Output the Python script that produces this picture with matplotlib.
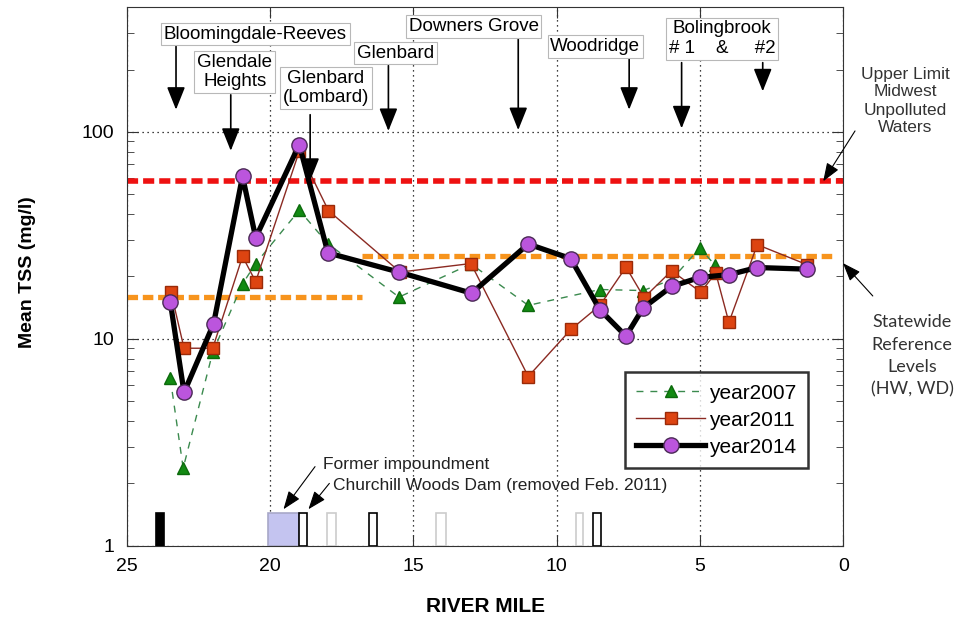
import matplotlib
matplotlib.use("Agg")
import matplotlib.pyplot as plt
from matplotlib.ticker import LogLocator, NullFormatter

plt.rcParams['font.family'] = ['Liberation Sans', 'DejaVu Sans']

# Mean TSS (mg/l) by river mile for each survey year
mile_2007 = [23.48, 23.03, 22.0, 20.96, 20.5, 18.98, 17.98, 15.5, 12.99,
             10.99, 8.49, 6.98, 5.99, 5.0, 4.48]
tss_2007 = [6.45, 2.37, 8.6, 18.4, 23.1, 41.8, 28.8, 15.9, 23.0,
            14.5, 17.3, 17.1, 19.3, 27.5, 22.7]

mile_2011 = [23.46, 23.0, 22.0, 20.96, 20.5, 18.98, 17.96, 15.46, 12.99,
             10.99, 9.5, 8.49, 7.58, 6.95, 5.99, 4.97, 4.45, 3.99, 3.0, 1.26]
tss_2011 = [16.9, 9.0, 9.0, 25.0, 18.9, 80.6, 41.6, 21.0, 23.1,
            6.57, 11.1, 14.5, 22.2, 15.8, 21.3, 16.8, 20.8, 12.0, 28.5, 22.8]

mile_2014 = [23.48, 23.0, 21.97, 20.96, 20.5, 18.98, 17.98, 15.5, 12.97,
             10.99, 9.51, 8.49, 7.58, 6.98, 5.99, 5.0, 3.99, 3.0, 1.28]
tss_2014 = [15.1, 5.5, 11.8, 61.0, 30.8, 86.8, 26.0, 21.0, 16.6,
            28.7, 24.4, 13.8, 10.3, 14.1, 17.9, 19.8, 20.4, 22.1, 21.7]

# reference levels
upper_limit = 58
ref_start = [25, 16.8]
ref_end = [16.8, 0.3]
ref_level = [16, 25]

# dams / impoundment along the channel (river-mile extents)
bar_from = [23.98, 20.06, 18.98, 18.02, 16.53, 14.21, 9.33, 8.72]
bar_to = [23.69, 18.98, 18.72, 17.71, 16.27, 13.86, 9.07, 8.45]
bar_top = 1.44
bar_face = ['black', '#c4c4f0', 'white', 'white', 'white', 'white', 'white', 'white']
bar_edge = ['black', '#a8a8c8', 'black', '#cccccc', 'black', '#cccccc', '#cccccc', 'black']

# treatment plant labels: (text, label mile, label y, [(arrow mile, arrow start, arrow tip)])
plants = [
    ("Bloomingdale-Reeves", 20.51, 297, [(23.28, 259, 128)]),
    ("Glendale\nHeights", 21.23, 195, [(21.37, 151, 81)]),
    ("Glenbard\n(Lombard)", 18.05, 163, [(18.60, 121, 58)]),
    ("Glenbard", 15.62, 240, [(15.87, 209, 101)]),
    ("Downers Grove", 12.90, 322, [(11.34, 282, 102)]),
    ("Woodridge", 8.65, 258, [(7.47, 225, 128)]),
    ("Bolingbrook\n# 1    &     #2", 4.22, 282, [(5.64, 216, 104), (2.81, 216, 157)]),
]

fig = plt.figure(figsize=(9.6, 6.27), dpi=100)
ax = fig.add_axes([0.132, 0.1297, 0.7464, 0.8587])

ax.set_yscale('log')
ax.set_xlim(25, 0)
ax.set_ylim(1, 400)
ax.set_xticks([25, 20, 15, 10, 5, 0])
ax.set_xticklabels(['25', '20', '15', '10', '5', '0'])
ax.set_yticks([1, 10, 100])
ax.set_yticklabels(['1', '10', '100'])
ax.yaxis.set_minor_locator(LogLocator(base=10, subs=range(2, 10)))
ax.yaxis.set_minor_formatter(NullFormatter())
ax.tick_params(which='both', direction='in', top=True, right=True,
               labelsize=14, color='#333333')
ax.tick_params(which='major', length=8, pad=9)
ax.tick_params(which='minor', length=5)
ax.grid(which='major', ls=(0, (1, 3)), color='black', lw=0.9)
for s in ax.spines.values():
    s.set_color('#333333')

# reference lines
ax.axhline(upper_limit, color='#ee1111', lw=4, dashes=(2.0, 0.9), zorder=2)
for x0, x1, lvl in zip(ref_start, ref_end, ref_level):
    ax.plot([x0, x1], [lvl, lvl], color='#f7941d', lw=3.8, dashes=(2.0, 0.9), zorder=2)

# bars along the bottom
for a, b, fc, ec in zip(bar_from, bar_to, bar_face, bar_edge):
    ax.bar((a + b) / 2, bar_top - 1, width=abs(a - b), bottom=1,
           color=fc, edgecolor=ec, lw=1.2, zorder=3)

l07, = ax.plot(mile_2007, tss_2007, ls=(0, (5, 5)), lw=1, color='#3b8a4e',
               marker='^', ms=8, mfc='#128a12', mec='#0c6a0c', zorder=4, label='year2007')
l11, = ax.plot(mile_2011, tss_2011, ls='-', lw=1, color='#8b2a22',
               marker='s', ms=9, mfc='#dd4411', mec='#9a2a08', zorder=5, label='year2011')
l14, = ax.plot(mile_2014, tss_2014, ls='-', lw=3.8, color='black',
               marker='o', ms=11, mfc='#bb55dd', mec='#4a2a55', mew=1, zorder=6, label='year2014')

leg = ax.legend(handles=[l07, l11, l14], loc='upper left', bbox_to_anchor=(0.695, 0.322),
                fontsize=15, frameon=True, fancybox=False, handlelength=3.3,
                labelspacing=0.38, borderpad=0.55, handletextpad=0.2, borderaxespad=0)
leg.get_frame().set_edgecolor('black')
leg.get_frame().set_linewidth(1.8)
leg.set_zorder(10)

arrow = dict(arrowstyle='-|>,head_length=0.7,head_width=0.28', mutation_scale=20,
             lw=1.2, color='black', shrinkA=0, shrinkB=0)
for text, tx, ty, arrows in plants:
    ax.text(tx, ty, text, ha='center', va='center', fontsize=13.5, zorder=8,
            bbox=dict(boxstyle='square,pad=0.15', fc='white', ec='#b8b8b8', lw=0.8))
    for am, a0, a1 in arrows:
        ax.annotate('', xy=(am, a1), xytext=(am, a0), arrowprops=arrow, zorder=7)

# dam notes
ax.text(18.14, 2.46, 'Former impoundment', ha='left', va='center', fontsize=12.5, color='#222222')
ax.text(17.82, 1.95, 'Churchill Woods Dam (removed Feb. 2011)', ha='left', va='center',
        fontsize=12.5, color='#222222')
small = dict(arrowstyle='-|>,head_length=0.8,head_width=0.3', mutation_scale=14,
             lw=0.8, color='black', shrinkA=0, shrinkB=0)
ax.annotate('', xy=(19.53, 1.5), xytext=(18.43, 2.41), arrowprops=small)
ax.annotate('', xy=(18.66, 1.5), xytext=(17.93, 2.0), arrowprops=small)

# notes outside the plot on the right
thin = dict(arrowstyle='-|>,head_length=0.8,head_width=0.3', mutation_scale=14,
            lw=0.8, color='black', shrinkA=0, shrinkB=0)
ax.annotate('', xy=(0.70, 57.7), xytext=(-0.41, 101), arrowprops=thin, annotation_clip=False)
ax.annotate('', xy=(0.01, 23.2), xytext=(-1.03, 16.1), arrowprops=thin, annotation_clip=False)
fig.text(905 / 960, 1 - 101 / 627, 'Upper Limit\nMidwest\nUnpolluted\nWaters',
         ha='center', va='center', fontsize=12.5, color='#333333', linespacing=1.25)
fig.text(912 / 960, 1 - 356 / 627, 'Statewide\nReference\nLevels\n(HW, WD)',
         ha='center', va='center', fontsize=13, color='#333333', linespacing=1.5,
         family=['Lato', 'DejaVu Sans'])

fig.text(485 / 960, 1 - 607 / 627, 'RIVER MILE', ha='center', va='center',
         fontsize=15, fontweight='bold')
fig.text(28 / 960, 1 - 272 / 627, 'Mean TSS (mg/l)', ha='center', va='center',
         rotation=90, fontsize=14, fontweight='bold')

fig.savefig('out.png', dpi=100)
